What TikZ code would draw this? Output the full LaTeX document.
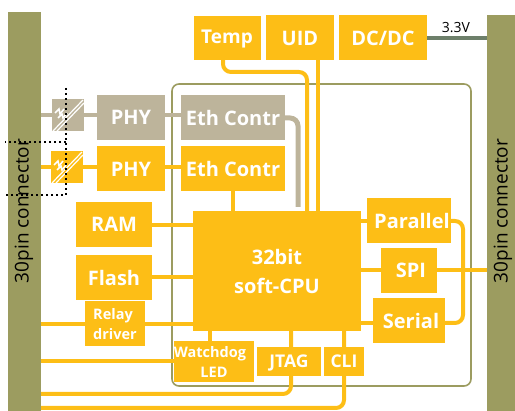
\documentclass[tikz,border=0pt]{standalone}
\usepackage{fontspec}
\setmainfont{Open Sans}
\usetikzlibrary{backgrounds}
\definecolor{blockyellow}{RGB}{253,190,22}
\definecolor{blockgrey}{RGB}{189,180,155}
\definecolor{connolive}{RGB}{156,156,96}
\definecolor{powergreen}{RGB}{109,127,106}

\begin{document}
\begin{tikzpicture}[x=1pt, y=-1pt,
    block/.style={fill=blockyellow, text=white, font=\bfseries\fontsize{20}{29}\selectfont, inner sep=0pt, align=center, text depth=0pt},
    offblock/.style={block, fill=blockgrey},
    smallblock/.style={block, font=\bfseries\fontsize{14.5}{20}\selectfont},
    tinyblock/.style={block, font=\bfseries\fontsize{17.5}{20}\selectfont},
    conn/.style={fill=connolive, inner sep=0pt},
    connlabel/.style={rotate=90, font=\fontsize{19}{22}\selectfont},
    link/.style={line width=4pt, blockyellow, rounded corners=8pt},
    offlink/.style={link, blockgrey},
    fpga/.style={draw=connolive, line width=1.6pt, rounded corners=7pt},
    opto/.style={line width=1.2pt, white},
    zone/.style={line width=2pt, dash pattern=on 2pt off 3pt}]
  \useasboundingbox (0,0) rectangle (515,411);
  % the two connectors
  \node[conn, minimum width=33, minimum height=399] (left) at (24.5,211.5) {};
  \node[conn, minimum width=28, minimum height=396] (right) at (501,213) {};
  \node[connlabel] (leftlabel) at (24,211) {30pin connector};
  \node[connlabel] (rightlabel) at (503,211) {30pin connector};
  % top row
  \node[block, font=\bfseries\fontsize{19}{20}\selectfont, minimum width=67, minimum height=44] (temp) at (227,38) {\raisebox{3pt}{Temp}};
  \node[block, minimum width=68, minimum height=45] (uid) at (300,38) {UID};
  \node[block, minimum width=88, minimum height=45] (dcdc) at (383,38) {DC/DC};
  % ethernet, the unused channel in grey
  \node[offblock, minimum width=32, minimum height=32] (isogrey) at (68,115) {};
  \node[block, minimum width=32, minimum height=32] (isoyellow) at (67,167) {};
  \node[offblock, minimum width=68, minimum height=45] (phygrey) at (131,117.5) {PHY};
  \node[block, minimum width=68, minimum height=45] (phyyellow) at (131,169) {PHY};
  \node[offblock, minimum width=104, minimum height=45] (ethgrey) at (233,117.5) {Eth Contr};
  \node[block, minimum width=104, minimum height=45] (ethyellow) at (233,168.5) {Eth Contr};
  % memory and the rest of the left side
  \node[block, minimum width=76, minimum height=45] (ram) at (114,224.5) {RAM};
  \node[block, minimum width=76, minimum height=45] (flash) at (114,277.5) {Flash};
  \node[smallblock, align=left, minimum width=60, minimum height=45] (relay) at (115,323.5) {Relay\\driver};
  \node[smallblock, minimum width=80, minimum height=41] (watchdog) at (214,361.5) {Watchdog\hspace*{8pt}\\LED};
  \node[tinyblock, minimum width=64, minimum height=29] (jtag) at (289,361.5) {JTAG};
  \node[tinyblock, minimum width=40, minimum height=29] (cli) at (344,361.5) {CLI};
  % processor and right side
  \node[block, minimum width=168, minimum height=120] (cpu) at (277,271) {32bit\\soft-CPU};
  \node[block, minimum width=84, minimum height=45] (parallel) at (409,220.5) {\hspace*{6pt}Parallel};
  \node[block, minimum width=56, minimum height=45] (spi) at (409,270.5) {\hspace*{4pt}SPI};
  \node[block, minimum width=72, minimum height=45] (serial) at (409,320.5) {\hspace*{4pt}Serial};
  \node[font=\fontsize{14}{15}\selectfont] (vout) at (456,28) {3.3V};
  \coordinate (tempdrop) at (223,60);
  \coordinate (tempcpu) at (307,211);
  \coordinate (uiddrop) at (318,60);
  \coordinate (ethdrop) at (298,207);
  \coordinate (jtagout) at (291,394);
  \coordinate (cliout) at (344,408);
  \begin{scope}[on background layer]
    \draw[fpga] (172,84) rectangle (471,386);
    % grey channel
    \draw[offlink] (left.east |- isogrey) -- (isogrey) -- (phygrey.west |- isogrey);
    \draw[offlink] (phygrey.east |- isogrey) -- (ethgrey.west |- isogrey);
    \draw[offlink, line width=5pt] (ethgrey.east |- 0,118) -- (ethdrop |- 0,118) -- (ethdrop);
    % yellow channel
    \draw[link] (left.east |- isoyellow) -- (isoyellow) -- (phyyellow.west |- isoyellow);
    \draw[link] (phyyellow.east |- isoyellow) -- (ethyellow.west |- isoyellow);
    \draw[link] (ethyellow.south) -- (ethyellow.south |- cpu.north);
    % top row into the processor
    \draw[link] (tempdrop) -- (tempdrop |- 0,72) -- (tempcpu |- 0,72) -- (tempcpu);
    \draw[link] (uiddrop) -- (uiddrop |- cpu.north);
    \draw[powergreen, line width=4pt] (dcdc.east) -- (right.west |- dcdc.east);
    % left side
    \draw[link] (ram.east |- 0,225) -- (cpu.west |- 0,225);
    \draw[link] (flash.east) -- (cpu.west |- flash.east);
    \draw[link] (left.east |- 0,324) -- (cpu.west |- 0,324);
    \draw[link] (left.east |- watchdog) -- (watchdog);
    \draw[link] (watchdog.north -| 210,0) -- (cpu.south -| 210,0);
    \draw[link] (cpu.south -| jtagout) -- (jtagout) -- (left.east |- jtagout);
    \draw[link] (cpu.south -| cliout) -- (cliout) -- (left.east |- cliout);
    % right side
    \draw[link] (cpu.east |- 0,221) -- (parallel.west |- 0,221);
    \draw[link] (cpu.east |- 0,323) -- (serial.west |- 0,323);
    \draw[link] (cpu.east |- spi) -- (right.west |- spi);
    \draw[link] (parallel.east |- 0,221) -- (463,221) -- (463,323) -- (serial.east |- 0,323);
  \end{scope}
  % optocoupler marks
  \foreach \opto in {isogrey, isoyellow} {
    \begin{scope}[shift={(\opto)}]
      \draw[opto] (-15,16) -- (15,-15);
      \draw[opto] (-11,16) -- (16,-12);
      \draw[opto, line width=1.5pt] (-13,-2) -- (-9,-6) -- (-8,-1) -- (-4,-6);
      \draw[opto, line width=1.5pt] (-10,3) -- (-6,-1) -- (-5,3) -- (-1,-2);
    \end{scope}
  }
  % isolation boundary
  \draw[zone] (66,88) -- (66,195) -- (5,195);
  \draw[zone] (66,142) -- (5,142);
\end{tikzpicture}
\end{document}
